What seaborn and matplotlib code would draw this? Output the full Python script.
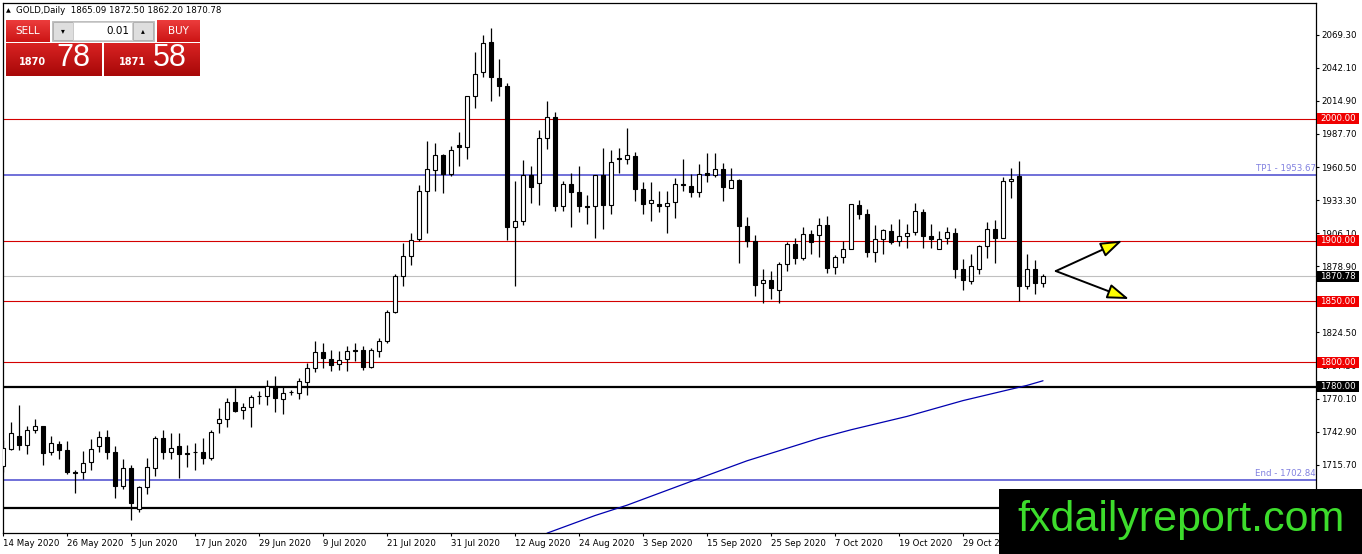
import numpy as np
import pandas as pd
import matplotlib
matplotlib.use("Agg")
import matplotlib.pyplot as plt
import seaborn as sns
from matplotlib.patches import Rectangle

# ---------------- data ----------------
symbol = "GOLD,Daily"
start_date = "2020-05-14"

opens = [1715.1, 1728.8, 1739.5, 1731.8, 1744.2, 1747.7, 1726.1, 1732.7, 1728.0, 1709.6,
         1709.4, 1717.9, 1731.3, 1738.4, 1726.4, 1697.9, 1712.9, 1679.2, 1697.3, 1712.9,
         1737.6, 1726.6, 1731.3, 1725.6, 1726.5, 1726.4, 1721.7, 1749.9, 1753.2, 1767.2,
         1760.6, 1763.1, 1772.4, 1771.9, 1780.9, 1769.7, 1775.7, 1774.6, 1783.7, 1795.2,
         1808.3, 1802.9, 1798.7, 1802.3, 1809.9, 1810.2, 1796.5, 1809.4, 1817.1, 1841.2,
         1871.3, 1887.0, 1901.5, 1941.2, 1957.7, 1970.3, 1955.0, 1978.8, 1976.9, 2019.1,
         2038.3, 2063.2, 2033.6, 2027.3, 1911.1, 1916.1, 1953.6, 1947.6, 1984.0, 2001.6,
         1928.4, 1946.2, 1939.9, 1928.6, 1928.4, 1953.6, 1928.9, 1967.8, 1966.8, 1969.5,
         1942.6, 1930.6, 1930.3, 1928.4, 1931.7, 1946.6, 1944.8, 1939.9, 1955.8, 1953.9,
         1958.6, 1943.5, 1949.8, 1912.0, 1899.6, 1864.8, 1867.6, 1859.1, 1881.0, 1897.5,
         1885.9, 1905.7, 1904.6, 1912.8, 1878.3, 1886.8, 1892.8, 1929.3, 1922.1, 1890.6,
         1901.6, 1907.9, 1899.6, 1903.5, 1907.0, 1923.8, 1903.8, 1893.3, 1902.4, 1906.5,
         1876.3, 1867.0, 1876.3, 1895.5, 1909.2, 1901.8, 1949.0, 1953.1, 1862.6, 1876.3,
         1865.09]
highs = [1735.7, 1751.3, 1764.5, 1747.7, 1753.2, 1748.0, 1739.5, 1734.9, 1734.9, 1711.6,
         1727.2, 1737.1, 1743.9, 1744.5, 1731.3, 1720.6, 1715.7, 1697.9, 1721.2, 1739.0,
         1744.5, 1741.7, 1741.7, 1731.6, 1733.5, 1737.6, 1744.5, 1762.3, 1770.5, 1778.7,
         1766.4, 1773.2, 1776.0, 1785.6, 1788.9, 1780.1, 1777.4, 1787.0, 1799.3, 1817.1,
         1815.7, 1810.3, 1808.9, 1813.0, 1815.7, 1813.0, 1811.6, 1819.8, 1843.1, 1872.7,
         1897.9, 1906.2, 1945.4, 1981.5, 1980.2, 1971.1, 1978.0, 1989.2, 2019.3, 2055.0,
         2069.3, 2074.7, 2049.3, 2029.5, 1949.0, 1965.9, 1961.3, 1990.6, 2014.7, 2006.0,
         1948.9, 1955.8, 1961.3, 1937.4, 1954.0, 1976.4, 1974.2, 1976.4, 1992.3, 1973.1,
         1948.4, 1948.4, 1940.7, 1940.7, 1951.1, 1966.8, 1954.4, 1963.0, 1972.3, 1972.3,
         1964.1, 1959.4, 1950.4, 1919.4, 1904.6, 1876.9, 1875.0, 1882.6, 1899.1, 1902.4,
         1911.2, 1908.4, 1918.8, 1920.2, 1888.1, 1899.6, 1930.3, 1933.1, 1925.7, 1912.8,
         1909.2, 1913.4, 1918.0, 1913.9, 1931.2, 1925.7, 1913.4, 1907.9, 1911.2, 1910.6,
         1884.6, 1888.7, 1896.4, 1915.5, 1916.6, 1952.3, 1960.0, 1965.4, 1889.2, 1883.7,
         1872.50]
lows = [1710.2, 1727.5, 1728.0, 1724.7, 1741.7, 1715.7, 1723.4, 1720.6, 1708.0, 1692.9,
        1704.2, 1711.6, 1726.6, 1720.3, 1688.3, 1695.9, 1670.4, 1676.5, 1691.6, 1706.9,
        1720.6, 1720.6, 1704.7, 1714.3, 1711.6, 1716.5, 1719.8, 1741.7, 1746.4, 1759.5,
        1753.2, 1746.7, 1765.8, 1764.5, 1759.0, 1757.3, 1772.7, 1769.7, 1772.7, 1792.4,
        1795.2, 1793.0, 1793.8, 1793.0, 1801.4, 1793.8, 1795.7, 1804.7, 1815.7, 1840.4,
        1863.1, 1880.1, 1899.3, 1906.2, 1940.4, 1939.1, 1953.3, 1961.0, 1967.0, 2009.0,
        2034.5, 2014.4, 2019.1, 1900.7, 1862.3, 1912.8, 1931.1, 1929.2, 1975.0, 1924.3,
        1924.3, 1911.1, 1923.5, 1913.3, 1901.8, 1909.2, 1922.1, 1955.8, 1962.7, 1932.5,
        1921.5, 1916.1, 1923.7, 1905.9, 1918.8, 1940.7, 1936.1, 1936.1, 1948.4, 1952.3,
        1932.5, 1943.0, 1881.8, 1894.7, 1854.4, 1848.9, 1851.7, 1848.9, 1875.0, 1880.5,
        1883.7, 1889.2, 1886.5, 1873.6, 1872.2, 1881.3, 1892.8, 1917.5, 1886.8, 1882.6,
        1888.7, 1897.5, 1895.5, 1893.6, 1904.6, 1894.2, 1894.2, 1892.8, 1896.9, 1869.5,
        1859.1, 1864.6, 1872.8, 1885.9, 1881.8, 1901.8, 1934.7, 1850.3, 1859.9, 1855.8,
        1862.20]
closes = [1729.4, 1741.7, 1731.8, 1744.2, 1747.2, 1725.8, 1733.5, 1727.5, 1709.4, 1709.2,
          1717.0, 1728.6, 1738.4, 1726.6, 1697.9, 1712.9, 1684.7, 1697.3, 1713.8, 1737.6,
          1726.6, 1729.4, 1724.5, 1725.0, 1726.0, 1721.7, 1742.5, 1753.2, 1767.2, 1760.1,
          1763.1, 1771.3, 1772.1, 1780.9, 1770.5, 1774.6, 1775.4, 1784.2, 1795.2, 1808.3,
          1803.4, 1797.9, 1801.5, 1809.3, 1809.5, 1796.5, 1810.2, 1817.1, 1841.2, 1871.3,
          1887.0, 1900.7, 1941.2, 1958.8, 1970.3, 1955.0, 1974.4, 1976.6, 2019.1, 2036.9,
          2062.4, 2034.5, 2027.3, 1910.8, 1916.2, 1953.6, 1944.0, 1984.6, 2001.6, 1928.4,
          1946.2, 1939.9, 1928.4, 1928.0, 1953.6, 1928.9, 1964.8, 1966.8, 1970.3, 1942.1,
          1929.8, 1933.3, 1928.4, 1931.1, 1946.2, 1945.8, 1939.9, 1955.0, 1953.9, 1958.6,
          1944.1, 1949.8, 1912.0, 1899.6, 1863.5, 1867.6, 1860.7, 1881.0, 1897.5, 1885.4,
          1905.7, 1898.8, 1912.8, 1877.2, 1886.8, 1893.3, 1930.3, 1922.1, 1890.6, 1901.6,
          1908.4, 1898.8, 1903.8, 1906.2, 1924.3, 1903.8, 1901.0, 1901.6, 1907.0, 1876.3,
          1867.3, 1879.1, 1895.5, 1909.8, 1902.4, 1949.0, 1950.9, 1862.6, 1876.3, 1864.8,
          1870.78]

# long moving average (read at a few bars)
ma_bars = [68, 74, 78, 87, 93, 102, 106, 113, 120, 128, 130]
ma_values = [1659.5, 1674.0, 1682.5, 1704.5, 1719.0, 1737.5, 1744.5, 1755.5, 1768.5, 1781.0, 1784.8]

red_levels = [2000.00, 1900.00, 1850.00, 1800.00]
black_levels = [1780.00, 1680.00]
purple_levels = [1953.67, 1702.84]
purple_labels = ["TP1 - 1953.67", "End - 1702.84"]
bid_price = 1870.78
sell_big, sell_small = "78", "1870"
buy_big, buy_small = "58", "1871"
lot_size = "0.01"
y_ticks = [2069.30, 2042.10, 2014.90, 1987.70, 1960.50, 1933.30, 1906.10, 1878.90,
           1851.70, 1824.50, 1797.30, 1770.10, 1742.90, 1715.70]
arrow_origin_price = 1875.0
arrow_target_prices = [1900.0, 1852.0]
arrow_origin_offset = 1.6
arrow_target_offsets = [9.9, 10.75]
watermark = "fxdailyreport.com"

# ---------------- styling ----------------
sns.set_theme(style="white")
plt.rcParams["font.family"] = ["DejaVu Sans"]

W, H = 1362, 554
fig = plt.figure(figsize=(W / 100, H / 100), dpi=100)
fig.patch.set_facecolor("white")

L_px, R_px, T_px, B_px = 2.5, 1316.3, 2.7, 533.3
ax = fig.add_axes([L_px / W, (H - B_px) / H, (R_px - L_px) / W, (B_px - T_px) / H])
ax.set_facecolor("white")

O = np.array(opens); Hh = np.array(highs); Lw = np.array(lows); C = np.array(closes)
n = len(O)
x = np.arange(n)
dates = pd.bdate_range(start_date, periods=n)

# horizontal levels
for lv in red_levels:
    ax.axhline(lv, color="#d40000", lw=0.8, zorder=1)
for lv in black_levels:
    ax.axhline(lv, color="black", lw=1.6, zorder=1)
for lv in purple_levels:
    ax.axhline(lv, color="#7070d8", lw=1.4, zorder=1)
ax.axhline(bid_price, color="#c0c0c0", lw=0.8, zorder=1)

# moving average
sns.lineplot(x=ma_bars, y=ma_values, ax=ax, color="#0000b0", lw=0.9, zorder=2)

# candles
up = C >= O
bottom = np.minimum(O, C)
height = np.abs(C - O)
ax.vlines(x, Lw, Hh, color="black", lw=0.9, zorder=3)
ax.bar(x[up], height[up], bottom=bottom[up], width=0.62, color="white",
       edgecolor="black", linewidth=0.8, zorder=4)
ax.bar(x[~up], height[~up], bottom=bottom[~up], width=0.62, color="black",
       edgecolor="black", linewidth=0.8, zorder=4)

# arrows
last = n - 1
for tp, off in zip(arrow_target_prices, arrow_target_offsets):
    ax.annotate("", xy=(last + off, tp), xytext=(last + arrow_origin_offset, arrow_origin_price),
                arrowprops=dict(arrowstyle="-|>,head_length=1.1,head_width=0.38",
                                fc="#ffff00", ec="black", lw=1.4, shrinkA=0, shrinkB=0),
                zorder=6)

ax.set_xlim(-0.06, 164.16)
ax.set_ylim(1659.4, 2095.6)
ax.set_xlabel("")
ax.set_ylabel("")

# x ticks
tick_idx = x[::8]
ax.set_xticks(tick_idx)
ax.set_xticklabels([f"{dates[i].day} {dates[i].strftime('%b %Y')}" for i in tick_idx])
for lab in ax.get_xticklabels():
    lab.set_ha("left")
ax.tick_params(axis="x", bottom=True, length=2.5, width=0.8, pad=1.5,
               labelsize=6.2, colors="black", direction="out")

# y ticks on the right
ax.yaxis.tick_right()
ax.set_yticks(y_ticks)
ax.set_yticklabels([f"{v:.2f}" for v in y_ticks])
ax.tick_params(axis="y", right=True, left=False, length=2.2, width=0.8, pad=1.5,
               labelsize=6.2, colors="black", direction="out")

for sp in ax.spines.values():
    sp.set_visible(True)
    sp.set_color("black")
    sp.set_linewidth(0.9)

# purple labels
for lv, txt in zip(purple_levels, purple_labels):
    ax.text(0.9995, lv + 1.8, txt, transform=ax.get_yaxis_transform(), ha="right",
            va="bottom", fontsize=6.2, color="#8080e0", zorder=5)

# price boxes on the right axis
ytr = ax.get_yaxis_transform()
box_x0 = (1317 - L_px) / (R_px - L_px)
box_w = 42 / (R_px - L_px)
box_h = 11 / 1.2165
boxes = [(lv, "#f00000") for lv in red_levels] + [(black_levels[0], "black"),
                                                   (bid_price, "black")]
for lv, col in boxes:
    ax.add_patch(Rectangle((box_x0, lv - box_h / 2), box_w, box_h, transform=ytr,
                           facecolor=col, edgecolor="none", clip_on=False, zorder=10))
    ax.text(box_x0 + box_w / 2, lv, f"{lv:.2f}", transform=ytr, ha="center", va="center",
            fontsize=6.2, color="white", zorder=11, clip_on=False)

# ---------------- overlay (header, trade panel, watermark) ----------------
ov = fig.add_axes([0, 0, 1, 1], zorder=10)
ov.patch.set_alpha(0)
ov.axis("off")


def grad(x0, y0, x1, y1, c_top, c_bot):
    c1 = np.array(matplotlib.colors.to_rgb(c_top))
    c2 = np.array(matplotlib.colors.to_rgb(c_bot))
    t = np.linspace(0, 1, 32)[:, None]
    img = (c1 * (1 - t) + c2 * t)[:, None, :]
    ov.imshow(img, extent=(x0, x1, y1, y0), aspect="auto", origin="upper",
              interpolation="bilinear", zorder=2)


# header
ov.text(8, 10.5, "\u25b2", fontsize=4.5, ha="center", va="center", color="black")
ov.text(16, 10.5, f"{symbol}  {opens[-1]:.2f} {highs[-1]:.2f} {lows[-1]:.2f} {closes[-1]:.2f}",
        fontsize=6.2, ha="left", va="center", color="black")

# SELL / BUY buttons
grad(6, 20, 50, 42, "#ec3c3c", "#cc1515")
grad(157, 20, 200, 42, "#ec3c3c", "#cc1515")
ov.text(28, 31, "SELL", color="white", fontsize=7.5, ha="center", va="center")
ov.text(178.5, 31, "BUY", color="white", fontsize=7.5, ha="center", va="center")
# lot control
ov.add_patch(Rectangle((52, 20.5), 102, 20, facecolor="#f2f2f2", edgecolor="#b4b4b4", lw=0.6, zorder=2))
ov.add_patch(Rectangle((53, 21.5), 19.5, 18, facecolor="#dedede", edgecolor="#a8a8a8", lw=0.6, zorder=3))
ov.add_patch(Rectangle((73, 21.5), 59, 18, facecolor="white", edgecolor="#c8c8c8", lw=0.6, zorder=3))
ov.add_patch(Rectangle((132.5, 21.5), 20.5, 18, facecolor="#dedede", edgecolor="#a8a8a8", lw=0.6, zorder=3))
ov.text(63, 30.5, "\u25be", fontsize=5.5, ha="center", va="center", color="black", zorder=4)
ov.text(143, 30.5, "\u25b4", fontsize=5.5, ha="center", va="center", color="black", zorder=4)
ov.text(129, 30.5, lot_size, fontsize=7.5, ha="right", va="center", color="black", zorder=4)
# price boxes
grad(6, 43, 102, 76, "#d82222", "#a80808")
grad(104, 43, 200, 76, "#d82222", "#a80808")
ov.text(33, 62, sell_small, color="white", fontsize=7, fontweight="bold", ha="center",
        va="center", zorder=4)
ov.text(73, 58.5, sell_big, color="white", fontsize=22, family="Liberation Sans",
        ha="center", va="center", zorder=4)
ov.text(132, 62, buy_small, color="white", fontsize=7, fontweight="bold", ha="center",
        va="center", zorder=4)
ov.text(170, 58.5, buy_big, color="white", fontsize=22, family="Liberation Sans",
        ha="center", va="center", zorder=4)

# watermark
ov.add_patch(Rectangle((999, 489), W - 999, H - 489, facecolor="black", edgecolor="none", zorder=5))
ov.text(1181, 520, watermark, color="#3ddc2c", fontsize=31, family="Liberation Sans",
        ha="center", va="center", zorder=6)

ov.set_xlim(0, W)
ov.set_ylim(H, 0)

fig.savefig("out.png", dpi=100)
